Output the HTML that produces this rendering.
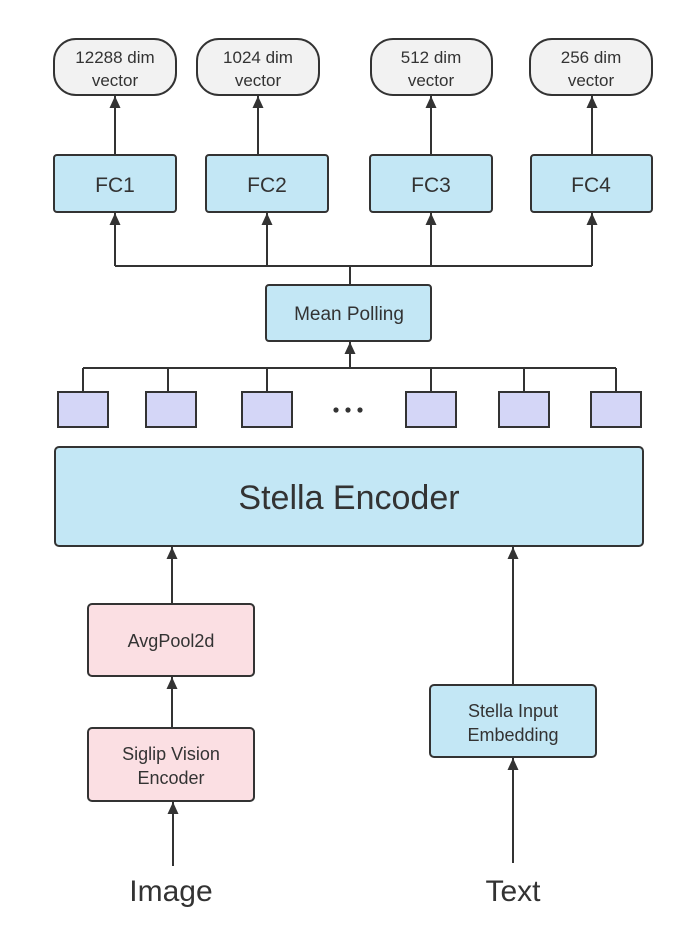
<!DOCTYPE html>
<html><head><meta charset="utf-8"><style>
html,body{margin:0;padding:0;background:#fff;}
svg{display:block;}
text{font-family:"Liberation Sans",sans-serif;fill:#333;}
</style></head><body>
<svg width="684" height="933" viewBox="0 0 684 933" xmlns="http://www.w3.org/2000/svg">
<defs>
<marker id="a" viewBox="0 0 12 12" refX="12" refY="6" markerWidth="12" markerHeight="12" markerUnits="userSpaceOnUse" orient="auto">
<path d="M0,0.5 L12,6 L0,11.5 z" fill="#333"/></marker>
</defs>
<g stroke="#333" stroke-width="2" fill="none">
<rect x="54" y="39" width="122" height="56" rx="22" fill="#f2f2f2"/>
<rect x="197" y="39" width="122" height="56" rx="22" fill="#f2f2f2"/>
<rect x="371" y="39" width="121" height="56" rx="22" fill="#f2f2f2"/>
<rect x="530" y="39" width="122" height="56" rx="22" fill="#f2f2f2"/>
<rect x="54" y="155" width="122" height="57" rx="3" fill="#c3e7f5"/>
<rect x="206" y="155" width="122" height="57" rx="3" fill="#c3e7f5"/>
<rect x="370" y="155" width="122" height="57" rx="3" fill="#c3e7f5"/>
<rect x="531" y="155" width="121" height="57" rx="3" fill="#c3e7f5"/>
<line x1="115" y1="155" x2="115" y2="96" marker-end="url(#a)"/>
<line x1="258" y1="155" x2="258" y2="96" marker-end="url(#a)"/>
<line x1="431" y1="155" x2="431" y2="96" marker-end="url(#a)"/>
<line x1="592" y1="155" x2="592" y2="96" marker-end="url(#a)"/>
<polyline points="115,266 592,266"/>
<line x1="350" y1="266" x2="350" y2="285"/>
<line x1="115" y1="266" x2="115" y2="213" marker-end="url(#a)"/>
<line x1="267" y1="266" x2="267" y2="213" marker-end="url(#a)"/>
<line x1="431" y1="266" x2="431" y2="213" marker-end="url(#a)"/>
<line x1="592" y1="266" x2="592" y2="213" marker-end="url(#a)"/>
<rect x="266" y="285" width="165" height="56" rx="3" fill="#c3e7f5"/>
<line x1="350" y1="368" x2="350" y2="342" marker-end="url(#a)"/>
<line x1="83" y1="368" x2="616" y2="368"/>
<line x1="83" y1="368" x2="83" y2="392"/>
<line x1="168" y1="368" x2="168" y2="392"/>
<line x1="267" y1="368" x2="267" y2="392"/>
<line x1="431" y1="368" x2="431" y2="392"/>
<line x1="524" y1="368" x2="524" y2="392"/>
<line x1="616" y1="368" x2="616" y2="392"/>
<g fill="#d4d6f7">
<rect x="58" y="392" width="50" height="35"/>
<rect x="146" y="392" width="50" height="35"/>
<rect x="242" y="392" width="50" height="35"/>
<rect x="406" y="392" width="50" height="35"/>
<rect x="499" y="392" width="50" height="35"/>
<rect x="591" y="392" width="50" height="35"/>
</g>
<rect x="55" y="447" width="588" height="99" rx="4" fill="#c3e7f5"/>
<rect x="88" y="604" width="166" height="72" rx="4" fill="#fbdfe3"/>
<rect x="88" y="728" width="166" height="73" rx="4" fill="#fbdfe3"/>
<line x1="172" y1="604" x2="172" y2="547" marker-end="url(#a)"/>
<line x1="172" y1="728" x2="172" y2="677" marker-end="url(#a)"/>
<line x1="173" y1="866" x2="173" y2="802" marker-end="url(#a)"/>
<rect x="430" y="685" width="166" height="72" rx="4" fill="#c3e7f5"/>
<line x1="513" y1="685" x2="513" y2="547" marker-end="url(#a)"/>
<line x1="513" y1="863" x2="513" y2="758" marker-end="url(#a)"/>
</g>
<g fill="#333">
<circle cx="336" cy="410" r="2.6"/><circle cx="348" cy="410" r="2.6"/><circle cx="360" cy="410" r="2.6"/>
</g>
<g text-anchor="middle" font-size="17">
<text x="115" y="63">12288 dim</text><text x="115" y="86">vector</text>
<text x="258" y="63">1024 dim</text><text x="258" y="86">vector</text>
<text x="431" y="63">512 dim</text><text x="431" y="86">vector</text>
<text x="591" y="63">256 dim</text><text x="591" y="86">vector</text>
<text x="115" y="192" font-size="21">FC1</text>
<text x="267" y="192" font-size="21">FC2</text>
<text x="431" y="192" font-size="21">FC3</text>
<text x="591" y="192" font-size="21">FC4</text>
<text x="349" y="320" font-size="19">Mean Polling</text>
<text x="349" y="509" font-size="34">Stella Encoder</text>
<text x="171" y="647" font-size="18">AvgPool2d</text>
<text x="171" y="760" font-size="18">Siglip Vision</text>
<text x="171" y="784" font-size="18">Encoder</text>
<text x="513" y="717" font-size="18">Stella Input</text>
<text x="513" y="741" font-size="18">Embedding</text>
<text x="171" y="901" font-size="30">Image</text>
<text x="513" y="901" font-size="30">Text</text>
</g>
</svg>
</body></html>
